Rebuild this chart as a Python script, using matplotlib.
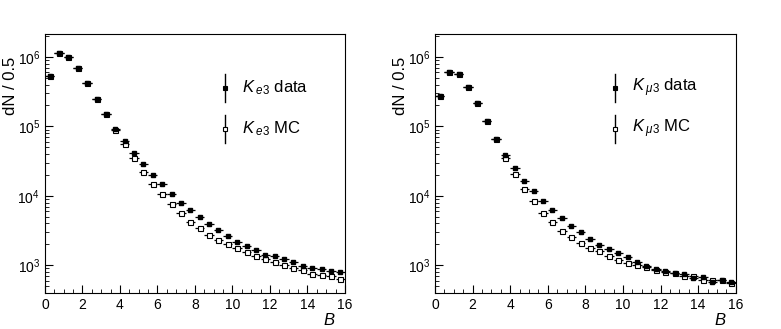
import matplotlib.pyplot as plt
import numpy as np

plt.rcParams['font.family'] = ['Liberation Sans', 'DejaVu Sans']
plt.rcParams['mathtext.fontset'] = 'custom'
plt.rcParams['mathtext.rm'] = 'Liberation Sans'
plt.rcParams['mathtext.it'] = 'Liberation Sans:italic'

# bin centres of B (bin width 0.5)
b_centres = np.arange(0.25, 16.0, 0.5)

ke3_data = [5.3e5, 1.13e6, 1.0e6, 6.95e5, 4.27e5, 2.5e5, 1.5e5, 9.3e4,
            6.1e4, 4.1e4, 2.9e4, 2.0e4, 1.46e4, 1.07e4, 8.0e3, 6.2e3,
            4.9e3, 3.9e3, 3.2e3, 2.6e3, 2.2e3, 1.91e3, 1.67e3, 1.43e3,
            1.34e3, 1.22e3, 1.1e3, 985, 900, 870, 835, 790]
ke3_mc = [5.3e5, 1.13e6, 1.0e6, 6.95e5, 4.27e5, 2.5e5, 1.5e5, 9.0e4,
          5.5e4, 3.5e4, 2.2e4, 1.5e4, 1.05e4, 7.6e3, 5.6e3, 4.2e3,
          3.4e3, 2.75e3, 2.33e3, 2.04e3, 1.75e3, 1.56e3, 1.34e3, 1.22e3,
          1.12e3, 1.0e3, 920, 860, 755, 730, 700, 630]

kmu3_data = [2.77e5, 6.1e5, 5.6e5, 3.74e5, 2.16e5, 1.2e5, 6.5e4, 3.85e4,
             2.55e4, 1.66e4, 1.17e4, 8.5e3, 6.35e3, 4.78e3, 3.74e3, 3.0e3,
             2.43e3, 1.99e3, 1.71e3, 1.48e3, 1.3e3, 1.11e3, 985, 890,
             826, 780, 746, 661, 676, 573, 617, 566]
kmu3_mc = [2.77e5, 6.1e5, 5.6e5, 3.74e5, 2.16e5, 1.2e5, 6.5e4, 3.55e4,
           2.07e4, 1.26e4, 8.3e3, 5.6e3, 4.2e3, 3.13e3, 2.57e3, 2.06e3,
           1.75e3, 1.58e3, 1.38e3, 1.2e3, 1.09e3, 1.0e3, 930, 853,
           790, 775, 700, 690, 617, 617, 615, 560]

panels = [
    (ke3_data, ke3_mc, r'$K_{\;e3}$', [0.0576, 0.1094, 0.3841, 0.7873]),
    (kmu3_data, kmu3_mc, r'$K_{\;\mu3}$', [0.557, 0.1094, 0.385, 0.7873]),
]

fig = plt.figure(figsize=(7.81, 3.29), dpi=100)

for data, mc, name, rect in panels:
    ax = fig.add_axes(rect)
    ax.errorbar(b_centres, mc, xerr=0.25, fmt='s', color='k', mfc='white',
                mec='k', ms=3.6, mew=0.8, elinewidth=0.9, capsize=0)
    ax.errorbar(b_centres, data, xerr=0.25, fmt='s', color='k', ms=3.2,
                elinewidth=0.9, capsize=0)
    ax.set_yscale('log')
    ax.set_xlim(0, 16)
    ax.set_ylim(399, 2.14e6)
    ax.set_xticks(np.arange(0, 17, 2))
    ax.set_xticks(np.arange(0, 16.1, 0.5), minor=True)
    ax.tick_params(which='both', direction='in', top=False, right=False,
                   labelsize=10)
    ax.tick_params(which='major', length=6)
    ax.tick_params(which='minor', length=3)
    ax.set_ylabel('dN / 0.5', fontsize=12)
    ax.yaxis.set_label_coords(-0.09, 0.80)
    ax.set_xlabel('$B$', fontsize=12, va='center')
    ax.xaxis.set_label_coords(0.947, -0.105)

    # legend drawn by hand, ROOT style
    for yy, filled, lab in [(0.793, True, name + ' data'),
                            (0.633, False, name + ' MC')]:
        ax.plot([0.6, 0.6], [yy - 0.054, yy + 0.054], color='k', lw=1,
                transform=ax.transAxes)
        ax.plot([0.6], [yy], 's', color='k',
                mfc='k' if filled else 'white', ms=3.0, mew=0.8,
                transform=ax.transAxes)
        ax.text(0.656, yy, lab, fontsize=12, va='center', ha='left',
                transform=ax.transAxes)

fig.savefig('out.png', dpi=100)
